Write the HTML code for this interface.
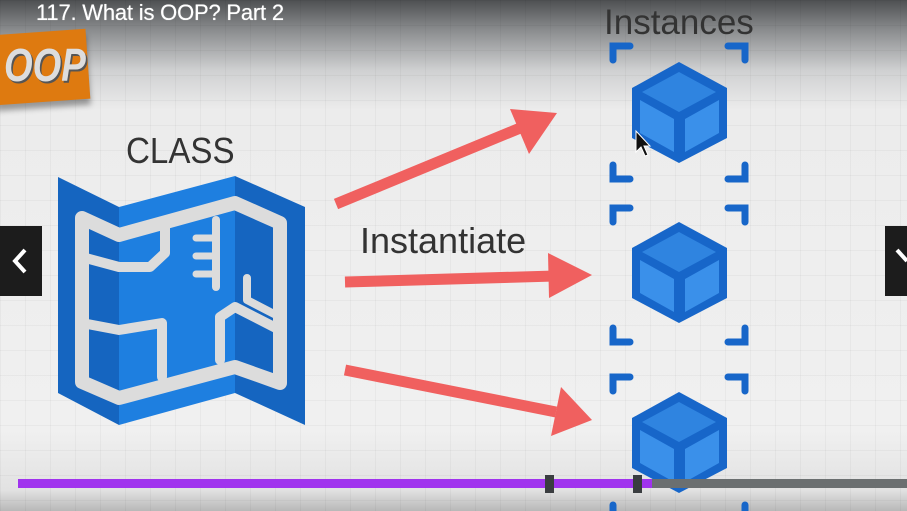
<!DOCTYPE html>
<html><head><meta charset="utf-8"><style>
body{margin:0;width:907px;height:511px;overflow:hidden;position:relative;font-family:"Liberation Sans",sans-serif;
background:linear-gradient(#4e5052 0px,#8a8c8e 30px,#cfd0d1 70px,#ececec 110px,#f0f0f0 430px,#e2e2e2 490px,#b8b8b8 511px);}
.grid{position:absolute;inset:0;background-image:linear-gradient(rgba(0,0,0,.035) 1px,transparent 1px),linear-gradient(90deg,rgba(0,0,0,.035) 1px,transparent 1px);background-size:25px 25px;}
.t{position:absolute;color:#333;white-space:nowrap}
</style></head><body>
<div class="grid"></div>
<div class="t" style="left:36px;top:0px;color:#fff;font-size:22px;letter-spacing:-0.2px;text-shadow:0 0 0.6px #fff">117. What is OOP? Part 2</div>
<div style="position:absolute;left:-6px;top:32px;width:94px;height:70px;background:#de7a10;transform:rotate(-4deg);box-shadow:0 6px 6px rgba(0,0,0,.35)"></div>
<div class="t" style="left:4px;top:38px;font-size:46px;font-weight:bold;font-style:italic;color:#ddd;transform:scaleX(.8);transform-origin:left;text-shadow:2px 2px 0 #555">OOP</div>
<div class="t" style="left:126px;top:130px;font-size:36px;transform:scaleX(.92);transform-origin:left">CLASS</div>
<div class="t" style="left:360px;top:220px;font-size:36px;transform:scaleX(1.0);">Instantiate</div>
<div class="t" style="left:604px;top:3px;font-size:35px;">Instances</div>
<svg width="907" height="511" style="position:absolute;left:0;top:0">
<polygon points="58,177 119,207 119,425 58,393" fill="#1565c0"/>
<polygon points="119,207 235,176 235,393 119,425" fill="#1e7fe0"/>
<polygon points="235,176 305,207 305,425 235,393" fill="#1565c0"/>
<g fill="none" stroke="#dcdcdc" stroke-width="14" stroke-linejoin="round" stroke-linecap="round">
<polygon points="82,218 119,235 235,203 280,223 280,383 235,367 119,398 82,382"/>
<polyline points="82,257 119,267 150,267 165,253 165,227" stroke-width="10"/>
<polyline points="216,220 216,287" stroke-width="8"/>
<line x1="196" y1="238" x2="214" y2="238" stroke-width="7"/>
<line x1="196" y1="256" x2="214" y2="256" stroke-width="7"/>
<line x1="196" y1="274" x2="214" y2="274" stroke-width="7"/>
<polyline points="82,323 119,330 162,323 162,377" stroke-width="10"/>
<polyline points="220,360 220,317 235,307 276,328" stroke-width="10"/>
<polyline points="247,278 247,300 276,315" stroke-width="8"/>
</g>
<g fill="#f0605f">
<line x1="336" y1="204" x2="525" y2="126" stroke="#f0605f" stroke-width="11"/>
<polygon points="557,113 510,109 529,154"/>
<line x1="345" y1="282" x2="555" y2="276" stroke="#f0605f" stroke-width="11"/>
<polygon points="592,275 548,253 549,298"/>
<line x1="345" y1="370" x2="556" y2="412" stroke="#f0605f" stroke-width="11"/>
<polygon points="592,420 561,387 551,436"/>
</g>
<g id="c">
<polygon points="679,62 727,88 727,138 679,163 632,138 632,88" fill="#1766c9"/>
<polygon points="679,72 716,92 679,112 642,92" fill="#2f84e0"/>
<polygon points="640,100 674,119 674,152 640,133" fill="#3a90ea"/>
<polygon points="685,119 719,100 719,133 685,152" fill="#3a90ea"/>
</g>
<use href="#c" y="160"/>
<use href="#c" y="330"/>
<g fill="none" stroke="#1766c9" stroke-width="7" stroke-linecap="round">
<path d="M613,60V46H630 M745,60V46H728 M613,165V179H630 M745,165V179H728"/>
<path d="M613,222V208H630 M745,222V208H728 M613,328V342H630 M745,328V342H728"/>
<path d="M613,391V377H630 M745,391V377H728 M613,505V515 M745,505V515"/>
</g>
<path d="M636,131 L636,152 L641,147 L645,156 L648,155 L644,146 L650,146 Z" fill="#111" stroke="#fff" stroke-width="1"/>
<rect x="0" y="226" width="42" height="70" fill="#1c1c1c"/>
<path d="M25,250 L15,261 L25,272" stroke="#fff" stroke-width="4" fill="none"/>
<rect x="885" y="226" width="22" height="70" fill="#1c1c1c"/>
<path d="M897,250 L907,261" stroke="#fff" stroke-width="4" fill="none"/>
<rect x="18" y="479" width="634" height="9" fill="#a033ee"/>
<rect x="652" y="479" width="255" height="9" fill="#6b6f70"/>
<rect x="545" y="475" width="9" height="18" fill="#3a3d40"/>
<rect x="633" y="475" width="9" height="18" fill="#3a3d40"/>
</svg>
</body></html>
